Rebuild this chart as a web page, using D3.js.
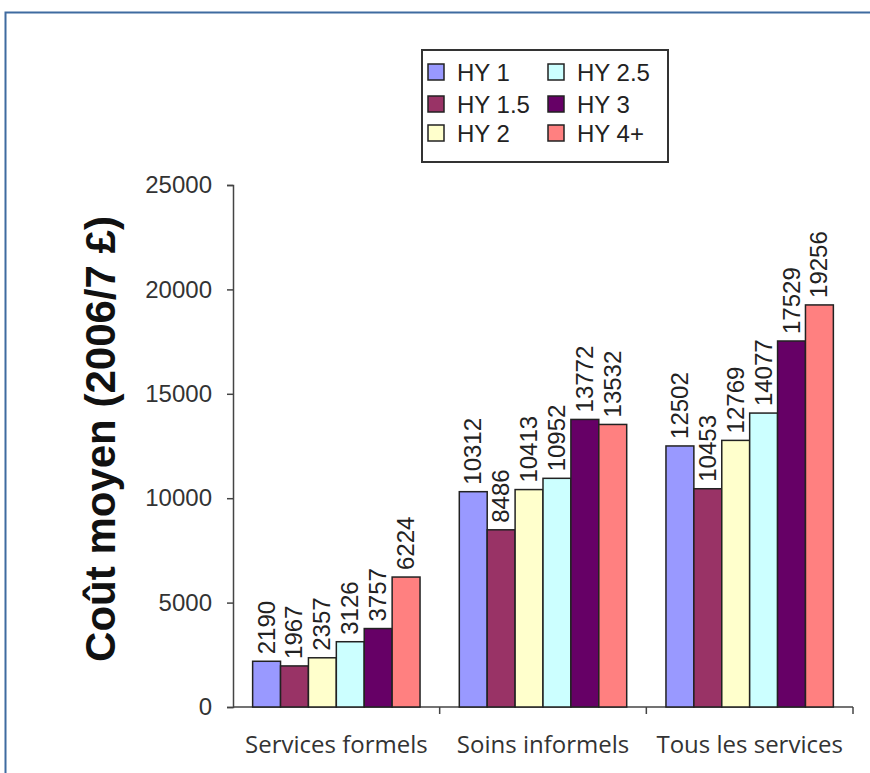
<!DOCTYPE html>
<html>
<head>
<meta charset="utf-8">
<script src="https://cdn.jsdelivr.net/npm/d3@7"></script>
<style>
  html, body { margin: 0; padding: 0; background: #fff; }
  svg { display: block; }
</style>
</head>
<body>
<svg id="chart" width="870" height="773"></svg>
<script>
// Mean cost per category of service, by Hoehn & Yahr stage
const categories = ["Services formels", "Soins informels", "Tous les services"];
const seriesNames = ["HY 1", "HY 1.5", "HY 2", "HY 2.5", "HY 3", "HY 4+"];
const hy1   = [2190, 10312, 12502];
const hy15  = [1967, 8486, 10453];
const hy2   = [2357, 10413, 12769];
const hy25  = [3126, 10952, 14077];
const hy3   = [3757, 13772, 17529];
const hy4   = [6224, 13532, 19256];
const yTicks = [0, 5000, 10000, 15000, 20000, 25000];
const colors = ["#9999FF", "#993366", "#FFFFCC", "#CCFFFF", "#660066", "#FF8080"];

const seriesValues = [hy1, hy15, hy2, hy25, hy3, hy4];

const svg = d3.select("#chart");

// outer frame
svg.append("rect")
  .attr("x", 5.5).attr("y", 12.5)
  .attr("width", 900).attr("height", 800)
  .attr("fill", "none")
  .attr("stroke", "#3f6ba0")
  .attr("stroke-width", 2);

const plot = { left: 233, right: 853, top: 185, bottom: 707 };

const x0 = d3.scaleBand().domain(categories).range([plot.left, plot.right]).padding(0);
const bw = x0.bandwidth();
const inset = bw * 0.095;
const x1 = d3.scaleBand().domain(seriesNames).range([inset, bw - inset]).padding(0);
const y = d3.scaleLinear().domain([0, 25000]).range([plot.bottom, plot.top]);

// y axis
const yAxis = svg.append("g")
  .attr("transform", `translate(${plot.left},0)`)
  .call(d3.axisLeft(y).tickValues(yTicks).tickSize(6).tickPadding(15).tickFormat(d3.format("d")));
yAxis.select(".domain").attr("stroke", "#444").attr("stroke-width", 1.5);
yAxis.selectAll(".tick line").attr("stroke", "#444").attr("stroke-width", 1.5);
yAxis.selectAll(".tick text")
  .attr("font-family", "Arial, 'Liberation Sans', sans-serif")
  .attr("font-size", 24)
  .attr("fill", "#333");

// x axis with ticks between categories
const xAxis = svg.append("g")
  .attr("transform", `translate(0,${plot.bottom})`);
xAxis.append("line")
  .attr("x1", plot.left).attr("x2", plot.right)
  .attr("stroke", "#444").attr("stroke-width", 1.5);
xAxis.selectAll("line.sep")
  .data(categories)
  .join("line")
  .attr("class", "sep")
  .attr("x1", d => x0(d) + bw).attr("x2", d => x0(d) + bw)
  .attr("y1", 0).attr("y2", 7)
  .attr("stroke", "#444").attr("stroke-width", 1.5);
xAxis.selectAll("text")
  .data(categories)
  .join("text")
  .attr("x", d => x0(d) + bw / 2)
  .attr("y", 46)
  .attr("text-anchor", "middle")
  .attr("font-family", "'Open Sans', 'Noto Sans', sans-serif")
  .attr("font-size", 24)
  .attr("fill", "#333")
  .text(d => d);

// bars
const groups = svg.append("g").selectAll("g")
  .data(categories)
  .join("g")
  .attr("transform", d => `translate(${x0(d)},0)`);

groups.selectAll("rect")
  .data((c, ci) => seriesNames.map((s, si) => ({ s, si, v: seriesValues[si][ci] })))
  .join("rect")
  .attr("x", d => x1(d.s))
  .attr("y", d => y(d.v))
  .attr("width", x1.bandwidth())
  .attr("height", d => y(0) - y(d.v))
  .attr("fill", d => colors[d.si])
  .attr("stroke", "#222")
  .attr("stroke-width", 1.5);

// value labels, rotated above each bar
groups.selectAll("text")
  .data((c, ci) => seriesNames.map((s, si) => ({ s, si, v: seriesValues[si][ci] })))
  .join("text")
  .attr("transform", d => `translate(${x1(d.s) + x1.bandwidth() / 2 + 8},${y(d.v) - 7}) rotate(-90)`)
  .attr("font-family", "Arial, 'Liberation Sans', sans-serif")
  .attr("font-size", 24)
  .attr("fill", "#222")
  .text(d => d.v);

// y axis title
svg.append("text")
  .attr("transform", `translate(115,439) rotate(-90)`)
  .attr("text-anchor", "middle")
  .attr("font-family", "Arial, 'Liberation Sans', sans-serif")
  .attr("font-weight", "bold")
  .attr("font-size", 42)
  .attr("fill", "#111")
  .text("Coût moyen (2006/7 £)");

// legend
const legend = svg.append("g");
legend.append("rect")
  .attr("x", 422).attr("y", 50)
  .attr("width", 246).attr("height", 112)
  .attr("fill", "#fff")
  .attr("stroke", "#333")
  .attr("stroke-width", 2);
const colX = [428, 548];
const rowY = [72, 104, 133];
const items = legend.selectAll("g")
  .data(seriesNames)
  .join("g")
  .attr("transform", (d, i) => `translate(${colX[Math.floor(i / 3)]},${rowY[i % 3]})`);
items.append("rect")
  .attr("x", 0).attr("y", -8)
  .attr("width", 16).attr("height", 16)
  .attr("fill", (d, i) => colors[i])
  .attr("stroke", "#222")
  .attr("stroke-width", 1.5);
items.append("text")
  .attr("x", 29).attr("y", 9)
  .attr("font-family", "Arial, 'Liberation Sans', sans-serif")
  .attr("font-size", 24)
  .attr("fill", "#222")
  .text(d => d);
</script>
</body>
</html>
